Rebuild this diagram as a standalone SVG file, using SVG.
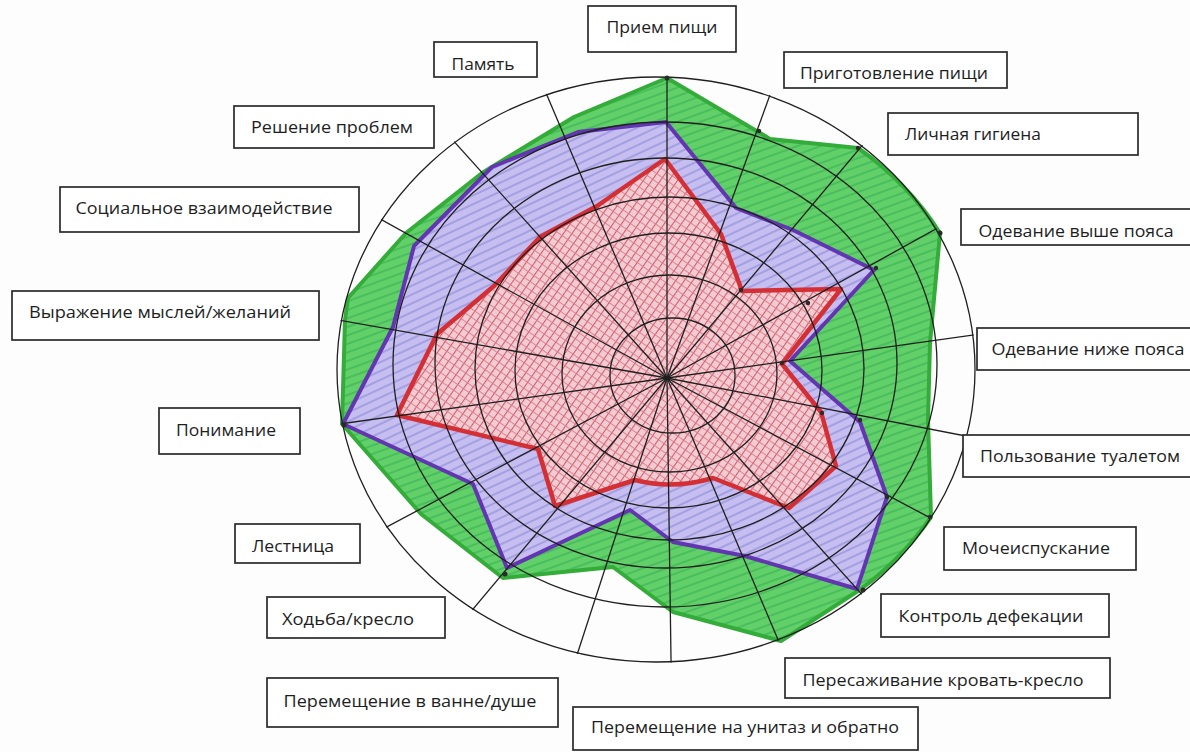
<svg xmlns="http://www.w3.org/2000/svg" width="1190" height="752" viewBox="0 0 1190 752">
  <defs>
    <style>
      .box { fill: #ffffff; stroke: #2a2a2a; stroke-width: 1.7; }
      .lbl { font-family: "Open Sans", "Liberation Sans", sans-serif; font-size: 17px; fill: #1e1e1e; text-anchor: middle; }
      .ring { fill: none; stroke: #1f1f1f; stroke-width: 1.3; }
      .spoke { stroke: #1f1f1f; stroke-width: 1.3; }
      .dot { fill: #2a2a2a; }
    </style>
    <pattern id="hRed" patternUnits="userSpaceOnUse" width="7" height="7" patternTransform="rotate(35)">
      <rect width="7" height="7" fill="#f2ccd3"/>
      <line x1="0.5" y1="0" x2="0.5" y2="7" stroke="#d35a68" stroke-width="1.1"/>
      <line x1="0" y1="3.5" x2="7" y2="3.5" stroke="#dc7b88" stroke-width="0.9"/>
    </pattern>
    <pattern id="hPurple" patternUnits="userSpaceOnUse" width="8" height="8" patternTransform="rotate(-25)">
      <rect width="8" height="8" fill="#c6bdf0"/>
      <line x1="0" y1="1" x2="8" y2="1" stroke="#5f68c4" stroke-width="0.9" stroke-opacity="0.75"/>
    </pattern>
    <pattern id="hGreen" patternUnits="userSpaceOnUse" width="8" height="8" patternTransform="rotate(-20)">
      <rect width="8" height="8" fill="#62d068"/>
      <line x1="0" y1="2" x2="8" y2="2" stroke="#35ad55" stroke-width="1.3" stroke-opacity="0.85"/>
    </pattern>
    <clipPath id="outerClip">
      <ellipse cx="656" cy="369.5" rx="320" ry="293.5"/>
    </clipPath>
  </defs>

  <rect width="1190" height="752" fill="#fdfdfd"/>

  <g id="areas">
    <path id="green-area" d="M667,78 L760,133 L770,139 L858,148 A319,292.5 0 0 1 940,233 L930,343 L928,420 L931,517 A319,292.5 0 0 1 861,589 L781,641 L673,612 L613,567 L503,578 L421,514 L342,424 L345,320 L348,298 L406,233 L482,173 L574,117 Z" fill="url(#hGreen)" stroke="#33ac3a" stroke-width="4" stroke-linejoin="round"/>
    <path id="purple-area" d="M666,122 L736,208 L793,230 L874,270 L790,361 L860,422 L887,497 L857,589 L745,556 L673,542 L630,510 L507,568 L473,484 L343,424 L393,327 L414,246 L492,167 L578,132 Z" fill="url(#hPurple)" stroke="#6236b0" stroke-width="4" stroke-linejoin="round"/>
    <path id="red-area" d="M665,159 L721,234 L742,291 L841,289 L782,364 L821,412 L836,466 L789,508 L713,478 Q673,490 635,480 L555,506 L538,449 L397,415 L437,334 L494,286 L540,237 L597,206 Z" fill="url(#hRed)" stroke="#d42f35" stroke-width="4.5" stroke-linejoin="round"/>
  </g>

  <g id="grid">
    <ellipse class="ring" cx="672.5" cy="375.5" rx="62.5" ry="57.5"/>
    <ellipse class="ring" cx="669.5" cy="373.5" rx="107.5" ry="98.5"/>
    <ellipse class="ring" cx="668.5" cy="370.5" rx="153.5" ry="137.5"/>
    <ellipse class="ring" cx="669.5" cy="368.5" rx="194.5" ry="171.5"/>
    <ellipse class="ring" cx="666" cy="363" rx="231" ry="205"/>
    <ellipse class="ring" cx="665" cy="364.5" rx="272" ry="242.5"/>
    <ellipse class="ring" cx="656" cy="369.5" rx="319" ry="292.5"/>
  </g>

  <g id="connectors" clip-path="url(#outerClip)">
    <line class="spoke" x1="667" y1="378" x2="667" y2="-42"/>
    <line class="spoke" x1="667" y1="378" x2="810.6" y2="-16.8"/>
    <line class="spoke" x1="667" y1="378" x2="937" y2="56.3"/>
    <line class="spoke" x1="667" y1="378" x2="1034.5" y2="174.3"/>
    <line class="spoke" x1="667" y1="378" x2="1082.9" y2="319.6"/>
    <line class="spoke" x1="667" y1="378" x2="1079.4" y2="458.1"/>
    <line class="spoke" x1="667" y1="378" x2="1037.9" y2="575.1"/>
    <line class="spoke" x1="667" y1="378" x2="948.1" y2="690.1"/>
    <line class="spoke" x1="667" y1="378" x2="831.1" y2="764.7"/>
    <line class="spoke" x1="667" y1="378" x2="673" y2="798"/>
    <line class="spoke" x1="667" y1="378" x2="537.2" y2="777.4"/>
    <line class="spoke" x1="667" y1="378" x2="397" y2="699.7"/>
    <line class="spoke" x1="667" y1="378" x2="296.1" y2="575.1"/>
    <line class="spoke" x1="667" y1="378" x2="251.1" y2="436.4"/>
    <line class="spoke" x1="667" y1="378" x2="253.3" y2="305.1"/>
    <line class="spoke" x1="667" y1="378" x2="299.5" y2="174.3"/>
    <line class="spoke" x1="667" y1="378" x2="386" y2="65.9"/>
    <line class="spoke" x1="667" y1="378" x2="502.8" y2="-8.8"/>
  </g>

  <g id="points">
    <circle class="dot" cx="667" cy="78" r="2.5"/>
    <circle class="dot" cx="759" cy="131" r="2.2"/>
    <circle class="dot" cx="858" cy="148" r="2.2"/>
    <circle class="dot" cx="940" cy="233" r="2.5"/>
    <circle class="dot" cx="876" cy="268" r="2.2"/>
    <circle class="dot" cx="741" cy="290" r="2.2"/>
    <circle class="dot" cx="808" cy="303" r="2.2"/>
    <circle class="dot" cx="782" cy="363" r="2.2"/>
    <circle class="dot" cx="822" cy="413" r="2.2"/>
    <circle class="dot" cx="860" cy="420" r="2.2"/>
    <circle class="dot" cx="887" cy="497" r="2.2"/>
    <circle class="dot" cx="930" cy="517" r="2.2"/>
    <circle class="dot" cx="863" cy="590" r="2.5"/>
    <circle class="dot" cx="505" cy="574" r="2.5"/>
    <circle class="dot" cx="344" cy="425" r="2.5"/>
  </g>

  <g id="node-priem"><rect class="box" x="588" y="6" width="148" height="46"/><text class="lbl" x="662" y="33" textLength="111" lengthAdjust="spacingAndGlyphs">Прием пищи</text></g>
  <g id="node-prigotovlenie"><rect class="box" x="784" y="52" width="223" height="36"/><text class="lbl" x="894" y="79" textLength="188" lengthAdjust="spacingAndGlyphs">Приготовление пищи</text></g>
  <g id="node-gigiena"><rect class="box" x="888" y="113" width="250" height="42"/><text class="lbl" x="973" y="140" textLength="136" lengthAdjust="spacingAndGlyphs">Личная гигиена</text></g>
  <g id="node-odevanie-verh"><rect class="box" x="961" y="209" width="240" height="36"/><text class="lbl" x="1076" y="237" textLength="195" lengthAdjust="spacingAndGlyphs">Одевание выше пояса</text></g>
  <g id="node-odevanie-niz"><rect class="box" x="977" y="328" width="224" height="42"/><text class="lbl" x="1088" y="355" textLength="193" lengthAdjust="spacingAndGlyphs">Одевание ниже пояса</text></g>
  <g id="node-tualet"><rect class="box" x="963" y="435" width="238" height="42"/><text class="lbl" x="1080" y="462" textLength="200" lengthAdjust="spacingAndGlyphs">Пользование туалетом</text></g>
  <g id="node-mocheispuskanie"><rect class="box" x="944" y="527" width="192" height="43"/><text class="lbl" x="1036" y="554" textLength="148" lengthAdjust="spacingAndGlyphs">Мочеиспускание</text></g>
  <g id="node-defekaciya"><rect class="box" x="881" y="594" width="228" height="43"/><text class="lbl" x="991" y="622" textLength="185" lengthAdjust="spacingAndGlyphs">Контроль дефекации</text></g>
  <g id="node-peresazhivanie"><rect class="box" x="785" y="658" width="325" height="40"/><text class="lbl" x="943" y="686" textLength="281" lengthAdjust="spacingAndGlyphs">Пересаживание кровать-кресло</text></g>
  <g id="node-unitaz"><rect class="box" x="573" y="707" width="345" height="43"/><text class="lbl" x="745" y="733" textLength="308" lengthAdjust="spacingAndGlyphs">Перемещение на унитаз и обратно</text></g>
  <g id="node-vanna"><rect class="box" x="267" y="678" width="291" height="49"/><text class="lbl" x="410" y="707" textLength="253" lengthAdjust="spacingAndGlyphs">Перемещение в ванне/душе</text></g>
  <g id="node-hodba"><rect class="box" x="267" y="597" width="178" height="41"/><text class="lbl" x="348" y="625" textLength="132" lengthAdjust="spacingAndGlyphs">Ходьба/кресло</text></g>
  <g id="node-lestnica"><rect class="box" x="235" y="524" width="125" height="39"/><text class="lbl" x="293" y="552" textLength="82" lengthAdjust="spacingAndGlyphs">Лестница</text></g>
  <g id="node-ponimanie"><rect class="box" x="159" y="408" width="141" height="46"/><text class="lbl" x="226" y="436" textLength="100" lengthAdjust="spacingAndGlyphs">Понимание</text></g>
  <g id="node-vyrazhenie"><rect class="box" x="12" y="291" width="307" height="49"/><text class="lbl" x="160" y="318" textLength="262" lengthAdjust="spacingAndGlyphs">Выражение мыслей/желаний</text></g>
  <g id="node-socialnoe"><rect class="box" x="60" y="187" width="299" height="45"/><text class="lbl" x="204" y="214" textLength="257" lengthAdjust="spacingAndGlyphs">Социальное взаимодействие</text></g>
  <g id="node-reshenie"><rect class="box" x="234" y="106" width="200" height="42"/><text class="lbl" x="332" y="133" textLength="162" lengthAdjust="spacingAndGlyphs">Решение проблем</text></g>
  <g id="node-pamyat"><rect class="box" x="434" y="42" width="103" height="35"/><text class="lbl" x="483" y="70" textLength="63" lengthAdjust="spacingAndGlyphs">Память</text></g>
</svg>
